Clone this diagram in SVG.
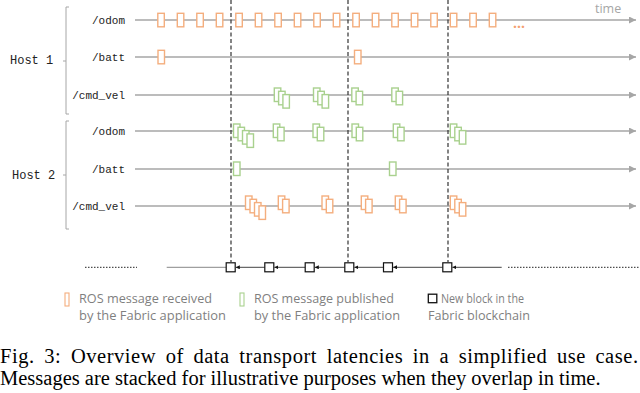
<svg xmlns="http://www.w3.org/2000/svg" xmlns:xlink="http://www.w3.org/1999/xlink" width="640" height="393" viewBox="0 0 640 393">
<style>
.bg{fill:#fff}
.tl{stroke:#a6a6a6;stroke-width:1.3;fill:none}
.dash{stroke:#333;stroke-width:1.2;stroke-dasharray:4 2.5;fill:none}
.lab{font-family:"Liberation Mono",monospace;font-size:11px;fill:#222;text-anchor:end}
.host{font-family:"Liberation Mono",monospace;font-size:12px;fill:#222}
.br{stroke:#a6a6a6;stroke-width:1;fill:none}
.o{fill:#fff;stroke:#F4AE7E;stroke-width:1.4}
.g{fill:#fff;stroke:#A9D18E;stroke-width:1.4}
.blk{fill:#fff;stroke:#111;stroke-width:1.2}
.chain{stroke:#444;stroke-width:1;fill:none}
.leg{font-family:"Open Sans",sans-serif;font-size:12px;fill:#7f7f7f}
.cap{font-family:"Liberation Serif",serif;font-size:20.5px;fill:#000}
</style>
<defs>
<marker id="ah" viewBox="0 0 10 10" refX="10" refY="5" markerWidth="8" markerHeight="7" markerUnits="userSpaceOnUse" orient="auto"><path d="M0,0 L10,5 L0,10 z" fill="#a6a6a6"/></marker>
<marker id="sa" viewBox="0 0 10 10" refX="10" refY="5" markerWidth="4" markerHeight="4" markerUnits="userSpaceOnUse" orient="auto"><path d="M0,0 L10,5 L0,10 z" fill="#111"/></marker>
<rect id="ro" class="o" width="6.5" height="13.5"/>
<rect id="rg" class="g" width="6.5" height="13.5"/>
</defs>
<rect class="bg" width="640" height="393"/>
<text x="595" y="12.5" style="font-family:'Open Sans',sans-serif;font-size:12.5px;fill:#a6a6a6">time</text>

<g id="host1">
<path class="br" d="M69,7 H66 V114 H69 M66,61 H63"/>
<text class="host" x="10" y="64">Host 1</text>
</g>
<g id="host2">
<path class="br" d="M69,121 H66 V229 H69 M66,175 H63"/>
<text class="host" x="12" y="179">Host 2</text>
</g>

<g id="connectors">
<line class="tl" x1="135" y1="20" x2="636" y2="20" marker-end="url(#ah)"/>
<line class="tl" x1="135" y1="57" x2="636" y2="57" marker-end="url(#ah)"/>
<line class="tl" x1="135" y1="95" x2="636" y2="95" marker-end="url(#ah)"/>
<line class="tl" x1="135" y1="131" x2="636" y2="131" marker-end="url(#ah)"/>
<line class="tl" x1="135" y1="169" x2="636" y2="169" marker-end="url(#ah)"/>
<line class="tl" x1="135" y1="206" x2="636" y2="206" marker-end="url(#ah)"/>
<line class="dash" x1="231" y1="0" x2="231" y2="262"/>
<line class="dash" x1="348" y1="0" x2="348" y2="262"/>
<line class="dash" x1="448" y1="0" x2="448" y2="262"/>
</g>

<g id="row-h1-odom">
<text class="lab" x="125" y="24">/odom</text>
<use href="#ro" x="157.8" y="13.3"/><use href="#ro" x="177.3" y="13.3"/><use href="#ro" x="196.8" y="13.3"/><use href="#ro" x="216.3" y="13.3"/><use href="#ro" x="235.8" y="13.3"/><use href="#ro" x="255.3" y="13.3"/><use href="#ro" x="274.8" y="13.3"/><use href="#ro" x="294.3" y="13.3"/><use href="#ro" x="313.8" y="13.3"/><use href="#ro" x="333.3" y="13.3"/><use href="#ro" x="352.8" y="13.3"/><use href="#ro" x="372.3" y="13.3"/><use href="#ro" x="391.8" y="13.3"/><use href="#ro" x="411.3" y="13.3"/><use href="#ro" x="430.8" y="13.3"/><use href="#ro" x="450.3" y="13.3"/><use href="#ro" x="469.8" y="13.3"/><use href="#ro" x="489.3" y="13.3"/>
<text x="513" y="28" style="font-family:'Open Sans',sans-serif;font-size:14px;font-weight:bold;fill:#F4A070">...</text>
</g>
<g id="row-h1-batt">
<text class="lab" x="125" y="61">/batt</text>
<use href="#ro" x="158" y="50.3"/><use href="#ro" x="354.5" y="50.3"/>
</g>
<g id="row-h1-cmd">
<text class="lab" x="125" y="99">/cmd_vel</text>
<use href="#rg" x="274.3" y="88"/><use href="#rg" x="278.6" y="91.3"/><use href="#rg" x="282.9" y="94.6"/>
<use href="#rg" x="313.5" y="88"/><use href="#rg" x="317.8" y="91.3"/><use href="#rg" x="322.1" y="94.6"/>
<use href="#rg" x="351.8" y="88"/><use href="#rg" x="356.1" y="91.3"/>
<use href="#rg" x="391.8" y="88"/><use href="#rg" x="396.1" y="91.3"/>
</g>
<g id="row-h2-odom">
<text class="lab" x="125" y="135">/odom</text>
<use href="#rg" x="233.5" y="124"/><use href="#rg" x="238" y="127.3"/><use href="#rg" x="242.5" y="130.6"/><use href="#rg" x="247" y="133.9"/>
<use href="#rg" x="273.3" y="124"/><use href="#rg" x="277.6" y="127.3"/>
<use href="#rg" x="313" y="124"/><use href="#rg" x="317.3" y="127.3"/>
<use href="#rg" x="352" y="124"/><use href="#rg" x="356.3" y="127.3"/>
<use href="#rg" x="393.3" y="124"/><use href="#rg" x="397.6" y="127.3"/>
<use href="#rg" x="450.3" y="124"/><use href="#rg" x="454.8" y="127.3"/><use href="#rg" x="459.3" y="130.6"/>
</g>
<g id="row-h2-batt">
<text class="lab" x="125" y="173">/batt</text>
<use href="#rg" x="233.5" y="162"/><use href="#rg" x="389.5" y="162"/>
</g>
<g id="row-h2-cmd">
<text class="lab" x="125" y="210">/cmd_vel</text>
<use href="#ro" x="245.5" y="196"/><use href="#ro" x="250" y="199.3"/><use href="#ro" x="254.5" y="202.6"/><use href="#ro" x="259" y="205.9"/>
<use href="#ro" x="278.3" y="196"/><use href="#ro" x="282.6" y="199.3"/>
<use href="#ro" x="322" y="196"/><use href="#ro" x="326.3" y="199.3"/>
<use href="#ro" x="361.3" y="196"/><use href="#ro" x="365.6" y="199.3"/>
<use href="#ro" x="395.3" y="196"/><use href="#ro" x="399.6" y="199.3"/>
<use href="#ro" x="450.3" y="196"/><use href="#ro" x="454.8" y="199.3"/><use href="#ro" x="459.3" y="202.6"/>
</g>

<g id="blockchain">
<line x1="85" y1="267.3" x2="137" y2="267.3" stroke="#222" stroke-width="1" stroke-dasharray="1.5 1.5"/>
<line x1="508" y1="267.3" x2="640" y2="267.3" stroke="#222" stroke-width="1" stroke-dasharray="1.5 1.5"/>
<line x1="166.7" y1="267.3" x2="226.2" y2="267.3" stroke="#888" stroke-width="1"/>
<line class="chain" x1="264.8" y1="267.3" x2="235.8" y2="267.3" marker-end="url(#sa)"/>
<line class="chain" x1="305.2" y1="267.3" x2="274.4" y2="267.3" marker-end="url(#sa)"/>
<line class="chain" x1="344.8" y1="267.3" x2="314.8" y2="267.3" marker-end="url(#sa)"/>
<line class="chain" x1="383.5" y1="267.3" x2="354.4" y2="267.3" marker-end="url(#sa)"/>
<line class="chain" x1="442.8" y1="267.3" x2="393.1" y2="267.3" marker-end="url(#sa)"/>
<line class="chain" x1="501.7" y1="267.3" x2="452.4" y2="267.3" marker-end="url(#sa)"/>
<rect class="blk" x="226.2" y="262.8" width="9" height="9"/>
<rect class="blk" x="264.8" y="262.8" width="9" height="9"/>
<rect class="blk" x="305.2" y="262.8" width="9" height="9"/>
<rect class="blk" x="344.8" y="262.8" width="9" height="9"/>
<rect class="blk" x="383.5" y="262.8" width="9" height="9"/>
<rect class="blk" x="442.8" y="262.8" width="9" height="9"/>
</g>

<g id="legend">
<rect x="65" y="293" width="4" height="13" fill="none" stroke="#F4AE7E" stroke-width="1.1"/>
<text class="leg" x="79" y="303" textLength="133" lengthAdjust="spacingAndGlyphs">ROS message received</text>
<text class="leg" x="79" y="320" textLength="147" lengthAdjust="spacingAndGlyphs">by the Fabric application</text>
<rect x="240" y="293" width="4" height="13" fill="none" stroke="#A9D18E" stroke-width="1.1"/>
<text class="leg" x="254" y="303" textLength="140" lengthAdjust="spacingAndGlyphs">ROS message published</text>
<text class="leg" x="254" y="320" textLength="146" lengthAdjust="spacingAndGlyphs">by the Fabric application</text>
<rect x="428.3" y="294.2" width="8.5" height="8.5" fill="none" stroke="#111" stroke-width="1.3"/>
<text class="leg" x="441" y="303" textLength="83" lengthAdjust="spacingAndGlyphs">New block in the</text>
<text class="leg" x="428" y="320" textLength="102" lengthAdjust="spacingAndGlyphs">Fabric blockchain</text>
</g>

<g id="caption">
<text class="cap" x="0" y="363" textLength="638" lengthAdjust="spacing" style="word-spacing:4px">Fig. 3: Overview of data transport latencies in a simplified use case.</text>
<text class="cap" x="0" y="385">Messages are stacked for illustrative purposes when they overlap in time.</text>
</g>
</svg>
